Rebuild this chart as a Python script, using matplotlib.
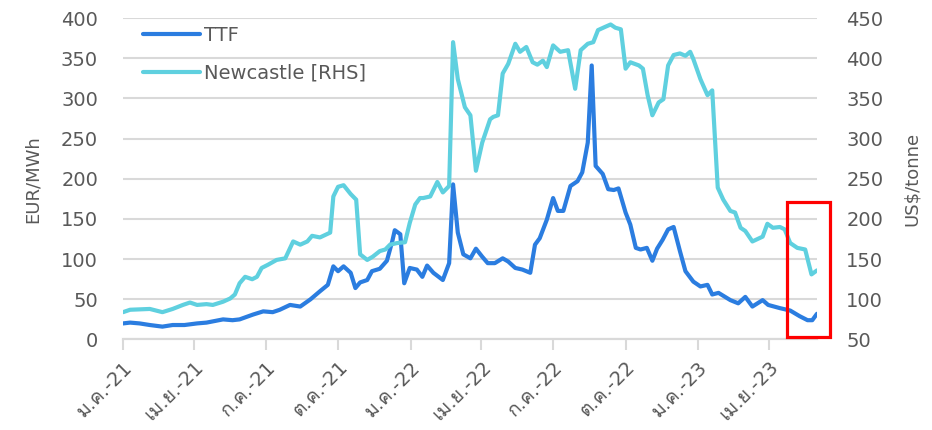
import matplotlib
matplotlib.use("Agg")
import matplotlib.pyplot as plt
import matplotlib.patches as mpatches
import pandas as pd

# TTF gas price, EUR/MWh (left axis)
ttf_dates = [
    "2021-01-01", "2021-01-10", "2021-01-22", "2021-02-04", "2021-02-20", "2021-03-05",
    "2021-03-20", "2021-04-05", "2021-04-17", "2021-05-08", "2021-05-20", "2021-05-29",
    "2021-06-15", "2021-06-28", "2021-07-10", "2021-07-19", "2021-08-01", "2021-08-14",
    "2021-08-27", "2021-09-08", "2021-09-18", "2021-09-25", "2021-10-01", "2021-10-08",
    "2021-10-17", "2021-10-23", "2021-10-29", "2021-11-07", "2021-11-13", "2021-11-23",
    "2021-12-02", "2021-12-09", "2021-12-12", "2021-12-19", "2021-12-24", "2021-12-31",
    "2022-01-09", "2022-01-16", "2022-01-22", "2022-01-30", "2022-02-11", "2022-02-19",
    "2022-02-24", "2022-03-02", "2022-03-09", "2022-03-18", "2022-03-25", "2022-04-02",
    "2022-04-09", "2022-04-18", "2022-04-28", "2022-05-05", "2022-05-14", "2022-05-23",
    "2022-06-02", "2022-06-08", "2022-06-14", "2022-06-23", "2022-07-01", "2022-07-07",
    "2022-07-14", "2022-07-23", "2022-08-01", "2022-08-07", "2022-08-14", "2022-08-19",
    "2022-08-24", "2022-09-02", "2022-09-09", "2022-09-16", "2022-09-22", "2022-10-01",
    "2022-10-07", "2022-10-14", "2022-10-20", "2022-10-28", "2022-11-04", "2022-11-10",
    "2022-11-17", "2022-11-24", "2022-12-01", "2022-12-09", "2022-12-16", "2022-12-26",
    "2023-01-04", "2023-01-13", "2023-01-19", "2023-01-27", "2023-02-11", "2023-02-21",
    "2023-03-02", "2023-03-11", "2023-03-24", "2023-03-31", "2023-04-15", "2023-04-28",
    "2023-05-10", "2023-05-20", "2023-05-26", "2023-06-01",
]
ttf_values = [
    20, 21, 20, 18, 16, 18,
    18, 20, 21, 25, 24, 25,
    31, 35, 34, 37, 43, 41,
    50, 60, 68, 91, 85, 91,
    83, 64, 71, 74, 85, 88,
    98, 123, 136, 131, 70, 89,
    87, 78, 92, 83, 74, 95,
    193, 133, 106, 101, 113, 103,
    95, 95, 101, 97, 89, 87,
    83, 118, 126, 149, 176, 160,
    160, 191, 197, 208, 245, 341,
    216, 206, 187, 186, 188, 158,
    143, 114, 112, 114, 98, 113,
    124, 137, 140, 110, 85, 72,
    66, 68, 56, 58, 49, 45,
    53, 41, 49, 43, 39, 36,
    29, 24, 24, 32,
]

# Newcastle coal price, US$/tonne (right axis)
ncl_dates = [
    "2021-01-01", "2021-01-10", "2021-02-04", "2021-02-20", "2021-03-05", "2021-03-18",
    "2021-03-27", "2021-04-05", "2021-04-17", "2021-04-25", "2021-05-08", "2021-05-17",
    "2021-05-23", "2021-05-29", "2021-06-05", "2021-06-14", "2021-06-20", "2021-06-26",
    "2021-07-04", "2021-07-15", "2021-07-26", "2021-08-05", "2021-08-14", "2021-08-23",
    "2021-08-29", "2021-09-08", "2021-09-21", "2021-09-25", "2021-10-01", "2021-10-08",
    "2021-10-17", "2021-10-24", "2021-10-29", "2021-11-07", "2021-11-14", "2021-11-23",
    "2021-11-30", "2021-12-06", "2021-12-15", "2021-12-25", "2021-12-31", "2022-01-07",
    "2022-01-13", "2022-01-17", "2022-01-26", "2022-02-04", "2022-02-11", "2022-02-19",
    "2022-02-24", "2022-03-02", "2022-03-11", "2022-03-18", "2022-03-25", "2022-04-02",
    "2022-04-12", "2022-04-16", "2022-04-22", "2022-04-28", "2022-05-05", "2022-05-14",
    "2022-05-20", "2022-05-28", "2022-06-05", "2022-06-11", "2022-06-18", "2022-06-23",
    "2022-07-01", "2022-07-10", "2022-07-20", "2022-07-29", "2022-08-05", "2022-08-14",
    "2022-08-21", "2022-08-27", "2022-09-05", "2022-09-12", "2022-09-18", "2022-09-25",
    "2022-10-01", "2022-10-07", "2022-10-18", "2022-10-23", "2022-10-29", "2022-11-04",
    "2022-11-12", "2022-11-18", "2022-11-24", "2022-12-01", "2022-12-09", "2022-12-16",
    "2022-12-22", "2022-12-26", "2023-01-04", "2023-01-13", "2023-01-19", "2023-01-26",
    "2023-02-02", "2023-02-11", "2023-02-17", "2023-02-24", "2023-03-02", "2023-03-11",
    "2023-03-24", "2023-03-30", "2023-04-06", "2023-04-15", "2023-04-21", "2023-04-28",
    "2023-05-07", "2023-05-17", "2023-05-25", "2023-06-01",
]
ncl_values = [
    84, 87, 88, 84, 88, 93,
    96, 93, 94, 93, 97, 101,
    106, 120, 128, 125, 128, 139,
    143, 149, 151, 172, 168, 172,
    179, 177, 183, 228, 240, 242,
    231, 224, 156, 149, 153, 160,
    162, 168, 170, 171, 195, 218,
    226, 226, 228, 246, 233, 241,
    420, 374, 339, 329, 260, 295,
    324, 327, 329, 381, 393, 418,
    408, 414, 395, 392, 397, 389,
    416, 408, 410, 362, 410, 418,
    420, 435, 439, 442, 438, 436,
    387, 395, 391, 387, 354, 329,
    345, 349, 391, 404, 406, 403,
    408, 399, 374, 354, 360, 239,
    224, 210, 208, 189, 185, 172,
    178, 194, 189, 190, 187, 170,
    164, 162, 131, 136,
]

tick_dates = pd.date_range("2021-01-01", "2023-04-01", freq="QS")
tick_labels = ["ม.ค.-21", "เม.ย.-21", "ก.ค.-21", "ต.ค.-21", "ม.ค.-22",
               "เม.ย.-22", "ก.ค.-22", "ต.ค.-22", "ม.ค.-23", "เม.ย.-23"]

# DejaVu has no Thai, Loma picks up the month names
plt.rcParams["font.family"] = ["DejaVu Sans", "Loma"]

TEXT = "#595959"
GRID = "#d9d9d9"
TTF_COLOR = "#2b7de0"
NCL_COLOR = "#5fd0df"

fig = plt.figure(figsize=(9.32, 4.3), dpi=100)
ax = fig.add_axes([0.132, 0.2105, 0.7446, 0.7475])
ax2 = ax.twinx()

ax.plot(pd.to_datetime(ttf_dates), ttf_values, color=TTF_COLOR, lw=3,
        solid_capstyle="round", solid_joinstyle="round", label="TTF")
ax2.plot(pd.to_datetime(ncl_dates), ncl_values, color=NCL_COLOR, lw=3,
         solid_capstyle="round", solid_joinstyle="round", label="Newcastle [RHS]")

ax.set_ylim(0, 400)
ax2.set_ylim(50, 450)
ax.set_yticks(range(0, 401, 50))
ax2.set_yticks(range(50, 451, 50))
ax.set_xlim(pd.Timestamp("2021-01-01"), pd.Timestamp("2023-06-01"))

ax.grid(axis="y", color=GRID, lw=1.5)
ax.set_axisbelow(True)
for a in (ax, ax2):
    for side in ("top", "left", "right"):
        a.spines[side].set_visible(False)
    a.spines["bottom"].set_color(GRID)
    a.spines["bottom"].set_linewidth(1.5)

ax.tick_params(axis="y", length=0, pad=18, labelsize=14, labelcolor=TEXT)
ax2.tick_params(axis="y", length=0, pad=21, labelsize=14, labelcolor=TEXT)
ax.set_xticks(tick_dates)
ax.set_xticklabels(tick_labels, rotation=45, ha="right", va="top",
                   rotation_mode="anchor")
ax.tick_params(axis="x", length=8, width=1.5, color=GRID, labelsize=14,
               labelcolor=TEXT, pad=5)

ax.set_ylabel("EUR/MWh", fontsize=13, color=TEXT, labelpad=14)
ax2.set_ylabel("US$/tonne", fontsize=13, color=TEXT, labelpad=14)

h1, l1 = ax.get_legend_handles_labels()
h2, l2 = ax2.get_legend_handles_labels()
ax2.legend(h1 + h2, l1 + l2, loc="upper left", bbox_to_anchor=(0.029, 0.975),
           frameon=False, fontsize=14, labelcolor=TEXT, borderpad=0,
           borderaxespad=0, handlelength=2.9, handletextpad=0.25,
           labelspacing=0.95)

# highlight box around latest readings
fig.patches.append(mpatches.Rectangle((787 / 932, 1 - 337 / 430), 43 / 932, 135 / 430,
                                      transform=fig.transFigure, fill=False,
                                      edgecolor="#ff0000", lw=2.3))

fig.savefig("out.png", dpi=100)
